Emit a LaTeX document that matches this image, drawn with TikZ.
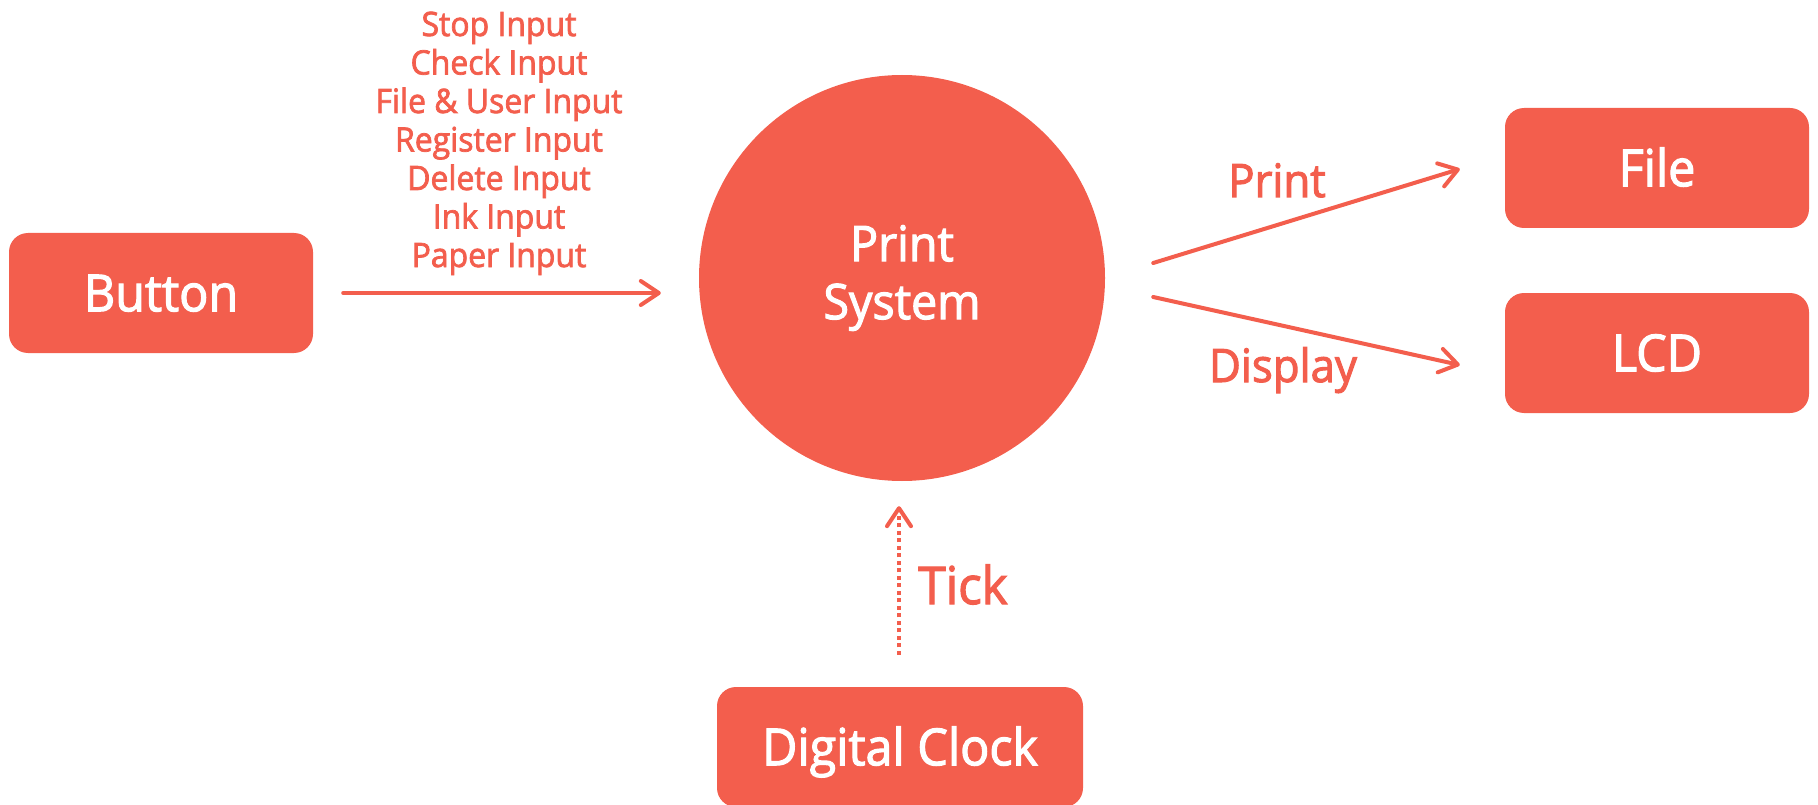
\documentclass[tikz,border=0pt]{standalone}
\usepackage{fontspec}
\setmainfont{Open Sans}[FakeBold=2.2, FakeStretch=0.95]
\usetikzlibrary{arrows.meta}
\definecolor{coral}{RGB}{243,94,77}
\begin{document}
\begin{tikzpicture}[x=1pt,y=-1pt,
  boxnode/.style={fill=coral, rounded corners=19pt, text=white,
    minimum width=304pt, minimum height=120pt, inner sep=0pt,
    text height=36.4pt, text depth=0pt, font=\fontsize{51}{60}\selectfont},
  arr/.style={draw=coral, line width=4pt, line cap=round,
    -{Straight Barb[length=18pt,width=24pt,round]}},
  dotarr/.style={draw=coral, line width=4pt, dash pattern=on 4pt off 3.5pt,
    -{Straight Barb[length=18pt,width=24pt,round,sep=0pt]}},
  inlbl/.style={text=coral, anchor=base, inner sep=0pt, font=\fontsize{33.6}{38.4}\selectfont},
  arrlbl/.style={text=coral, anchor=base, inner sep=0pt, font=\fontsize{46}{54}\selectfont}
]
\useasboundingbox (0,0) rectangle (1818,805);
\clip (0,0) rectangle (1818,805);

% nodes
\node[boxnode] (button) at (161,293) {Button};
\node[boxnode] (file) at (1657,168) {File};
\node[boxnode] (lcd) at (1657,353) {LCD};
\node[boxnode, minimum width=366pt] (clock) at (900,747) {Digital Clock};
\node[circle, fill=coral, minimum size=406pt, inner sep=0pt, text=white,
      align=center, font=\fontsize{49}{58}\selectfont] (sys) at (902,278) {Print\\System};

% input labels
\node[inlbl] (in1) at (499,36) {Stop Input};
\node[inlbl] (in2) at (499,74.5) {Check Input};
\node[inlbl] (in3) at (499,113) {File \& User Input};
\node[inlbl] (in4) at (499,151.5) {Register Input};
\node[inlbl] (in5) at (499,190) {Delete Input};
\node[inlbl] (in6) at (499,228.5) {Ink Input};
\node[inlbl] (in7) at (499,267) {Paper Input};

% connectors
\draw[arr, shorten <=30pt, shorten >=38pt] (button.east) -- (button.east -| sys.west);
\draw[arr] ([shift={(48,-15)}]sys.east) -- ([shift={(-45,1)}]file.west);
\draw[arr] ([shift={(48,19)}]sys.east) -- ([shift={(-45,12)}]lcd.west);
\draw[dotarr, shorten <=32pt, shorten >=25pt] ([xshift=-1pt]clock.north) -- ([xshift=-1pt]clock.north |- sys.south);

% connector labels
\node[arrlbl] (lprint) at (1277,197) {Print};
\node[arrlbl] (ldisplay) at (1283,382) {Display};
\node[arrlbl, font=\fontsize{52}{60}\selectfont] (ltick) at (963,604) {Tick};
\end{tikzpicture}
\end{document}
